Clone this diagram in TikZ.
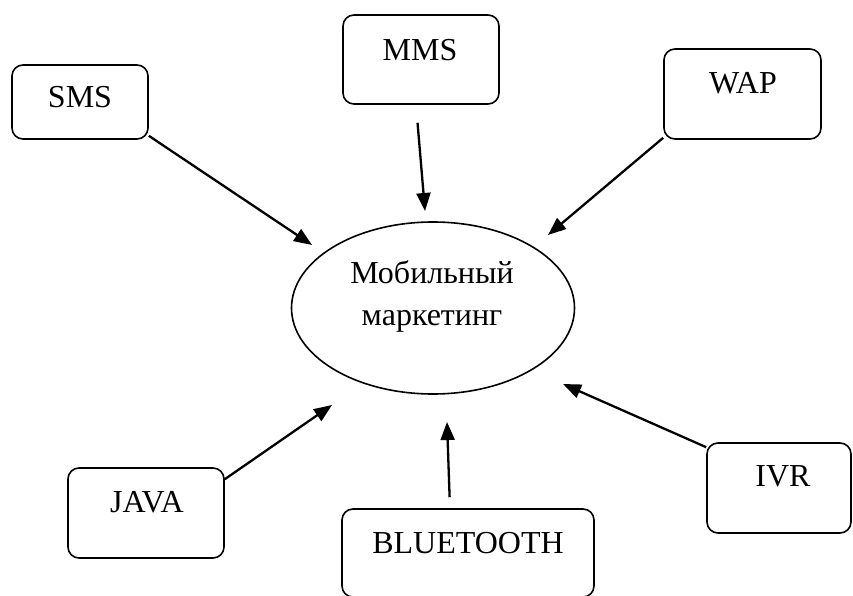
\documentclass[tikz,border=0pt]{standalone}
\usepackage{fontspec}
\setmainfont{Liberation Serif}
\usetikzlibrary{arrows.meta, shapes.geometric}

\tikzset{
  box/.style={draw, rounded corners=11pt, line width=1.6pt},
  lbl/.style={font=\fontsize{32}{42}\selectfont, inner sep=0pt, align=center},
  arr/.style={->, >={Triangle[length=18pt,width=14pt]}, line width=2.3pt},
}

\begin{document}
\begin{tikzpicture}[x=1pt, y=-1pt]
    \useasboundingbox (0,0) rectangle (853,596);
    % centre
    \node[draw, ellipse, line width=1.6pt, minimum width=283, minimum height=172] (mob) at (433,308) {};
    \node[lbl] (mobtext) at (432,296) {Мобильный\\маркетинг};
    % boxes
    \node[box, minimum width=136, minimum height=74] (sms) at (80,102) {};
    \node[box, minimum width=156, minimum height=89] (mms) at (421,59.5) {};
    \node[box, minimum width=157, minimum height=90] (wap) at (742.5,94) {};
    \node[box, minimum width=156, minimum height=90] (java) at (146,513) {};
    \node[box, minimum width=252, minimum height=88] (blue) at (468,553) {};
    \node[box, minimum width=144, minimum height=90] (ivr) at (779,488) {};
    \node[lbl] (smstext) at (80,97) {SMS};
    \node[lbl] (mmstext) at (420,50) {MMS};
    \node[lbl] (waptext) at (743,83) {WAP};
    \node[lbl] (javatext) at (147,502) {JAVA};
    \node[lbl] (bluetext) at (468,543) {BLUETOOTH};
    \node[lbl] (ivrtext) at (783,476) {IVR};
    % arrow ends
    \coordinate (smsend) at (312,245);
    \coordinate (mmsend) at (425,211);
    \coordinate (wapend) at (548,235);
    \coordinate (javaend) at (332,405);
    \coordinate (blueend) at (447,422);
    \coordinate (ivrend) at (563,384);
    \draw[arr] ([yshift=4pt]sms.south east) -- (smsend);
    \draw[arr, shorten <=18pt] ([xshift=-5pt]mms.south) -- (mmsend);
    \draw[arr] ([yshift=2pt]wap.south west) -- (wapend);
    \draw[arr] ([yshift=-12pt]java.north east) -- (javaend);
    \draw[arr, shorten <=11pt] ([xshift=-18pt]blue.north) -- (blueend);
    \draw[arr] ([yshift=-5pt]ivr.north west) -- (ivrend);
\end{tikzpicture}
\end{document}
